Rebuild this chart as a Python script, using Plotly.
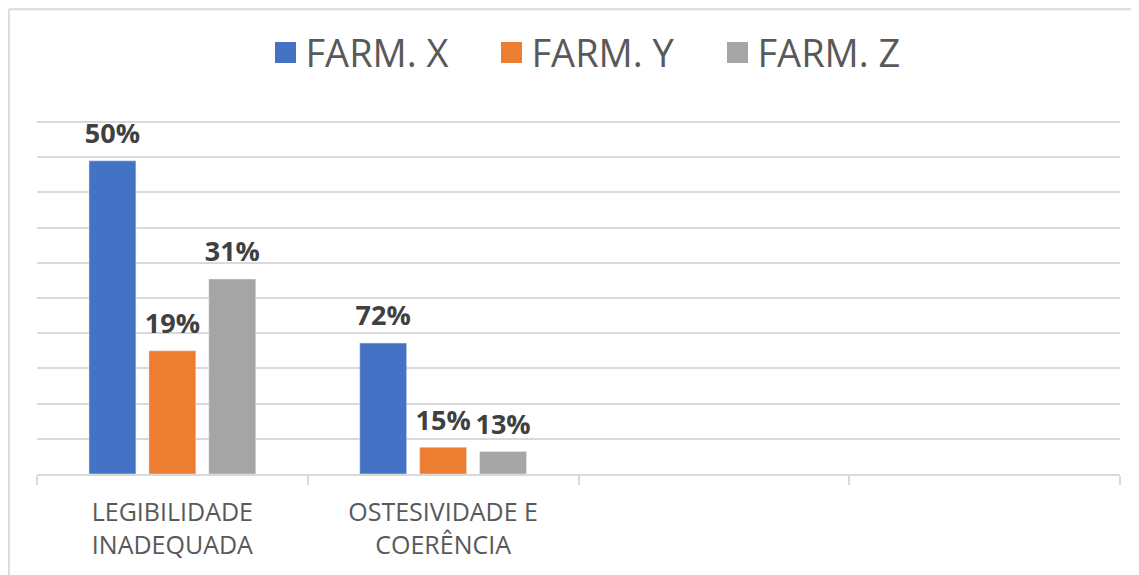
import plotly.graph_objects as go

# categories (last two slots are empty in the original chart)
categories = ["LEGIBILIDADE<br>INADEQUADA", "OSTESIVIDADE E<br>COERÊNCIA", " ", "  "]

# bar heights as drawn (axis 0-10), labels are the printed percentages
farm_x = [8.9, 3.72, None, None]
farm_y = [3.5, 0.76, None, None]
farm_z = [5.54, 0.64, None, None]
labels_x = ["50%", "72%", "", ""]
labels_y = ["19%", "15%", "", ""]
labels_z = ["31%", "13%", "", ""]

series = [
    ("FARM. X", farm_x, labels_x, "#4472C4"),
    ("FARM. Y", farm_y, labels_y, "#ED7D31"),
    ("FARM. Z", farm_z, labels_z, "#A5A5A5"),
]

grid = "#D9D9D9"
fig = go.Figure()
for name, vals, labs, col in series:
    # big label on first line, a tiny blank line under it lifts it off the bar top
    txt = ["<span style='font-size:27px'>" + l + "</span><br>&nbsp;" if l else "" for l in labs]
    fig.add_trace(go.Bar(
        x=categories, y=vals, name=name, legendgroup=name, showlegend=False,
        marker=dict(color=col),
        text=txt, textposition="outside",
        textfont=dict(family="Open Sans", size=9, color="#404040", weight="bold"),
        cliponaxis=False, constraintext="none",
        hoverinfo="skip",
    ))
    # legend-only entry so the swatch can be a bigger square
    fig.add_trace(go.Scatter(
        x=[None], y=[None], mode="markers", name=name, legendgroup=name,
        marker=dict(symbol="square", size=16, color=col, line=dict(color=col, width=5)),
        hoverinfo="skip",
    ))

fig.update_layout(
    width=1139, height=575,
    margin=dict(l=29, r=27, t=112, b=109, autoexpand=False),
    paper_bgcolor="white", plot_bgcolor="white",
    barmode="group", bargap=0.336, bargroupgap=0.217,
    font=dict(family="Open Sans", color="#595959"),
    showlegend=True,
    legend=dict(
        orientation="h", x=0.524, xanchor="center", y=1.19, yanchor="middle",
        font=dict(size=38, color="#595959"), itemwidth=30, entrywidth=181,
        traceorder="normal", itemclick=False,
    ),
    xaxis=dict(
        categoryorder="array", categoryarray=categories, range=[-0.5, 3.5],
        showgrid=False, showline=True, linecolor=grid, linewidth=2,
        ticks="outside", tickson="boundaries", ticklen=9, tickwidth=2, tickcolor=grid,
        tickfont=dict(size=25, color="#595959"), ticklabelstandoff=15, fixedrange=True,
    ),
    yaxis=dict(
        range=[0, 10.06], tick0=0, dtick=1, showgrid=True, gridcolor=grid, gridwidth=2,
        showticklabels=False, zeroline=False, showline=False, fixedrange=True,
    ),
    shapes=[
        dict(type="line", xref="paper", yref="paper", x0=-0.026, x1=1.1, y0=1.313, y1=1.313,
             line=dict(color=grid, width=2)),
        dict(type="line", xref="paper", yref="paper", x0=-0.026, x1=-0.026, y0=1.313, y1=-0.4,
             line=dict(color=grid, width=2)),
    ],
)

fig.write_html("out.html")
